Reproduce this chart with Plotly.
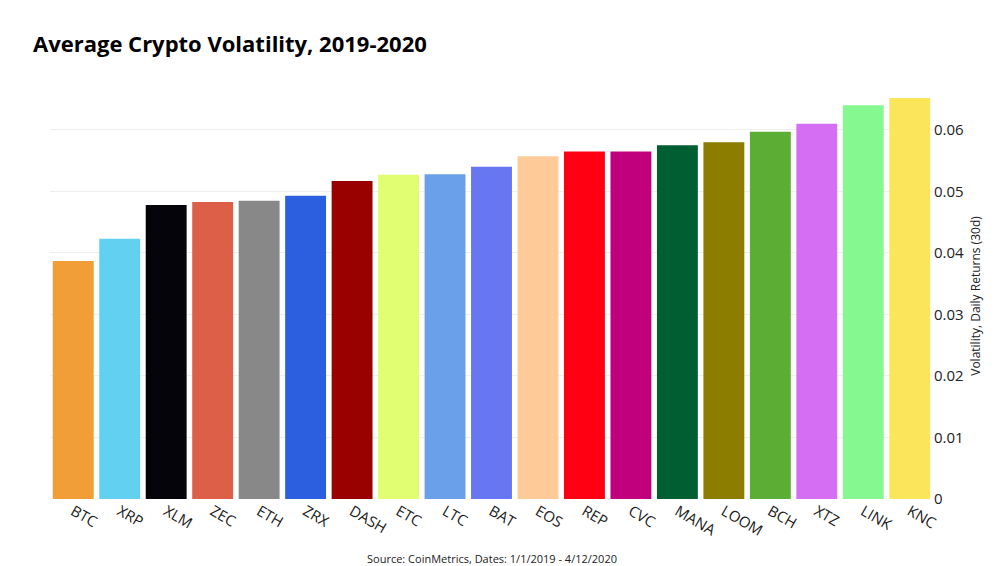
import plotly.graph_objects as go

coins = ["BTC","XRP","XLM","ZEC","ETH","ZRX","DASH","ETC","LTC","BAT","EOS","REP","CVC","MANA","LOOM","BCH","XTZ","LINK","KNC"]
vol = [0.0387,0.0423,0.0478,0.0483,0.0485,0.0493,0.0517,0.0527,0.0528,0.0540,0.0557,0.0565,0.0565,0.0575,0.0580,0.0597,0.0610,0.0640,0.0652]
colors = ["#F29E38","#62D1F1","#05040B","#DE5F47","#888888","#2B5FE0","#990000","#E1FD72","#6AA0EA","#6777F2",
          "#FECB98","#FE0011","#C1007E","#005E33","#8C7C00","#5BAE33","#D56EF2","#86F890","#FBE55B"]

fig = go.Figure(go.Bar(x=coins, y=vol, marker=dict(color=colors, line=dict(width=0))))
fig.update_layout(
    width=1000, height=566, plot_bgcolor="white", paper_bgcolor="white",
    font=dict(family="Open Sans", color="#222"),
    title=dict(text="<b>Average Crypto Volatility, 2019-2020</b>", x=0.025, y=0.95, font=dict(size=22, color="black")),
    margin=dict(l=42, r=75, t=85, b=75), bargap=0.12, showlegend=False,
    yaxis=dict(side="right", range=[0, 0.066], dtick=0.01, gridcolor="#eeeeee", zeroline=False, automargin=False,
               title=dict(text="Volatility, Daily Returns (30d)", font=dict(size=12), standoff=8), tickfont=dict(size=15)),
    xaxis=dict(tickangle=30, tickfont=dict(size=15), automargin=False),
    annotations=[dict(text="Source: CoinMetrics, Dates: 1/1/2019 - 4/12/2020", xref="paper", yref="paper",
                      x=0.5, y=-0.17, showarrow=False, font=dict(size=11))],
)
fig.write_html("out.html")
